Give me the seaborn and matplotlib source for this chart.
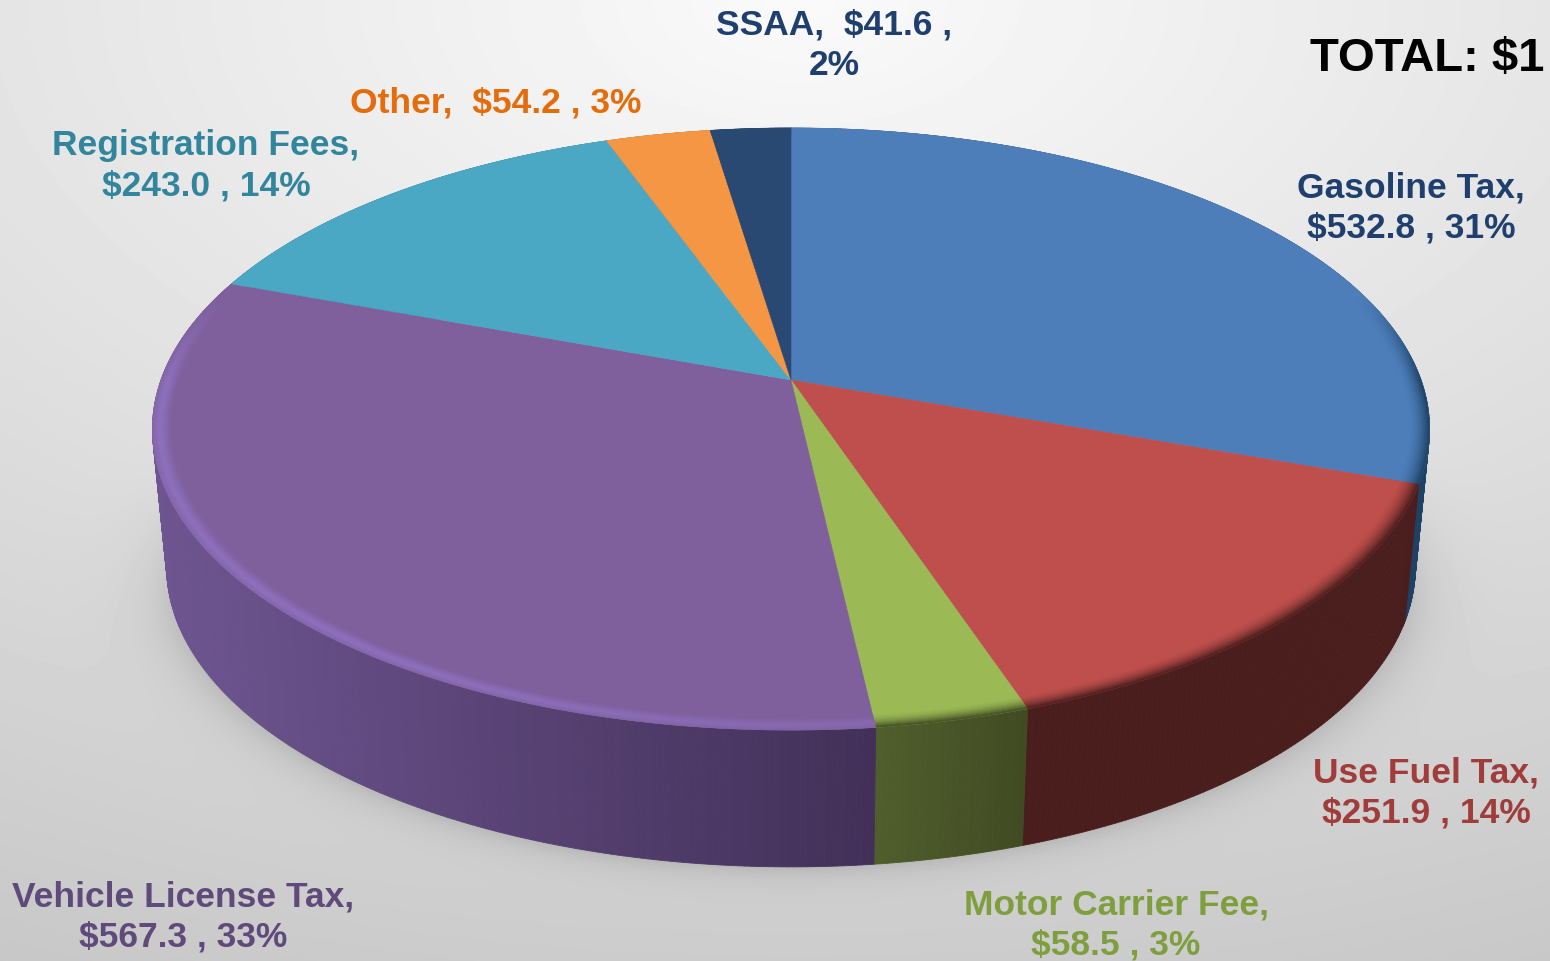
# 3D style revenue pie, drawn as projected wedges
import numpy as np
import matplotlib.pyplot as plt
from matplotlib.collections import PolyCollection
from matplotlib.colors import to_rgb
import seaborn as sns

# Data ($ millions), clockwise from 12 o'clock
categories = ['Gasoline Tax', 'Use Fuel Tax', 'Motor Carrier Fee', 'Vehicle License Tax',
              'Registration Fees', 'Other', 'SSAA']
values = [532.8, 251.9, 58.5, 567.3, 243.0, 54.2, 41.6]
percents = [31, 14, 3, 33, 14, 3, 2]
total_label = 'TOTAL: $1'

# Colours
top_colors = ['#4D7EBA', '#BE4F4C', '#9BB955', '#7F609D', '#4AA8C4', '#F49644', '#294973']
side_left = ['#1E4164', '#4B1E1E', '#505F2D', '#6E5591', '#2A6070', '#8A5020', '#182C45']
side_right = ['#1E4164', '#4B1E1E', '#414B23', '#423058', '#2A6070', '#8A5020', '#182C45']
text_colors = ['#1F3F6E', '#A03C3A', '#7F9F3F', '#5F4A7B', '#31859C', '#E46C0A', '#1F3F6E']

# Label centres in pixels
label_x = [1411, 1426, 1116, 183, 206, 496, 834]
label_y = [208, 793, 925, 917, 166, 103, 45]

# Projection of the pie disc
CX = 791
K = 0.163
TOP = dict(a=630, b=293, c=380)
BOTTOM = dict(a=616, b=292, c=518)
BEVEL = 0.968


def project(theta, r, a, b, c):
    x = r * np.cos(theta)
    y = r * np.sin(theta)
    w = 1 + K * y
    return np.column_stack([CX + a * x / w, c - b * y / w])


sns.set_theme(style='white')
plt.rcParams['font.family'] = ['Liberation Sans', 'DejaVu Sans']

fig = plt.figure(figsize=(15.5, 9.61), dpi=100)
ax = fig.add_axes([0, 0, 1, 1])

# Background: light at top centre, grey towards the bottom, soft shadow under the pie
yy, xx = np.mgrid[0:961, 0:1550]
dist = np.sqrt(((xx - 800) / 1700) ** 2 + (yy / 961) ** 2)
bg = 250 - 46 * dist
ell = np.sqrt(((xx - CX) / 625) ** 2 + ((yy - 568) / 298) ** 2) - 1
fade = np.clip((yy - 430) / 200, 0, 1)
bg = bg - 26 * np.exp(-np.clip(ell, 0, None) / 0.045) * fade
ax.imshow(bg, cmap='gray', vmin=0, vmax=255, extent=[0, 1550, 961, 0], aspect='auto', zorder=0)

# Slice angles, from the values
fractions = np.array(values) / np.sum(values)
edges = np.pi / 2 - 2 * np.pi * np.concatenate([[0], np.cumsum(fractions)])

# Side wall
polys, cols, depth = [], [], []
for i in range(len(values)):
    ramp = sns.blend_palette([side_left[i], side_right[i]], 256)
    n = max(int(abs(edges[i] - edges[i + 1]) * 120), 2)
    th = np.linspace(edges[i], edges[i + 1], n)
    up = project(th, 1.0, **TOP)
    low = project(th, 1.0, **BOTTOM)
    span = (up[:, 0].min(), up[:, 0].max())
    for j in range(n - 1):
        polys.append([up[j], up[j + 1], low[j + 1], low[j]])
        f = (up[j, 0] - span[0]) / max(span[1] - span[0], 1)
        cols.append(ramp[int(np.clip(f, 0, 1) * 255)])
        depth.append(up[j, 1])
order = np.argsort(depth)
ax.add_collection(PolyCollection([polys[o] for o in order], facecolors=[cols[o] for o in order],
                                 edgecolors=[cols[o] for o in order], linewidths=0.6, zorder=2))

# Top face
for i in range(len(values)):
    th = np.linspace(edges[i], edges[i + 1], 200)
    arc = project(th, 1.0, **TOP)
    pts = np.vstack([[CX, TOP['c']], arc])
    ax.fill(pts[:, 0], pts[:, 1], color=top_colors[i], lw=0.4, zorder=3)

# Rounded rim on the near side of the top face
rings = np.linspace(BEVEL, 1.0, 15)
polys, cols = [], []
for i in range(len(values)):
    base = np.array(to_rgb(top_colors[i]))
    dark = np.array(to_rgb(side_right[i] if i != 3 else '#8E70BE'))
    n = max(int(abs(edges[i] - edges[i + 1]) * 100), 2)
    th = np.linspace(edges[i], edges[i + 1], n)
    for j in range(n - 1):
        tm = (th[j] + th[j + 1]) / 2
        vis = np.clip((0.3 - np.sin(tm)) / 0.3, 0, 1)
        for q in range(len(rings) - 1):
            t = (q + 0.5) / (len(rings) - 1)
            if i == 3:
                # highlight peaks inside the edge, fades out towards the wall on the right
                w = np.sin(np.pi / 2 * t / 0.7) ** 2 if t < 0.7 else 1 - 0.6 * ((t - 0.7) / 0.3)
                w = w * (0.55 + 0.45 * np.clip((np.cos(tm) * -1 + 0.1) / 0.6, 0, 1))
            else:
                w = t ** 1.8
            col = base * (1 - vis * w) + dark * vis * w
            a = project(th[j:j + 2], rings[q], **TOP)
            b = project(th[j:j + 2], rings[q + 1], **TOP)
            polys.append([a[0], a[1], b[1], b[0]])
            cols.append(tuple(col))
ax.add_collection(PolyCollection(polys, facecolors=cols, edgecolors=cols, linewidths=0.4, zorder=4))

# Labels
for i, name in enumerate(categories):
    if name == 'Other':
        txt = f'{name},  ${values[i]:.1f} , {percents[i]}%'
    elif name == 'SSAA':
        txt = f'{name},  ${values[i]:.1f} ,\n{percents[i]}%'
    else:
        txt = f'{name},\n${values[i]:.1f} , {percents[i]}%'
    ax.text(label_x[i], label_y[i], txt, color=text_colors[i], fontsize=25.5, fontweight='bold',
            ha='center', va='center', linespacing=1.29, zorder=6)

ax.text(1310, 59, total_label, color='black', fontsize=34, fontweight='bold',
        ha='left', va='center', zorder=6)

ax.set_xlim(0, 1550)
ax.set_ylim(961, 0)
ax.axis('off')

plt.savefig('out.png', dpi=100)
